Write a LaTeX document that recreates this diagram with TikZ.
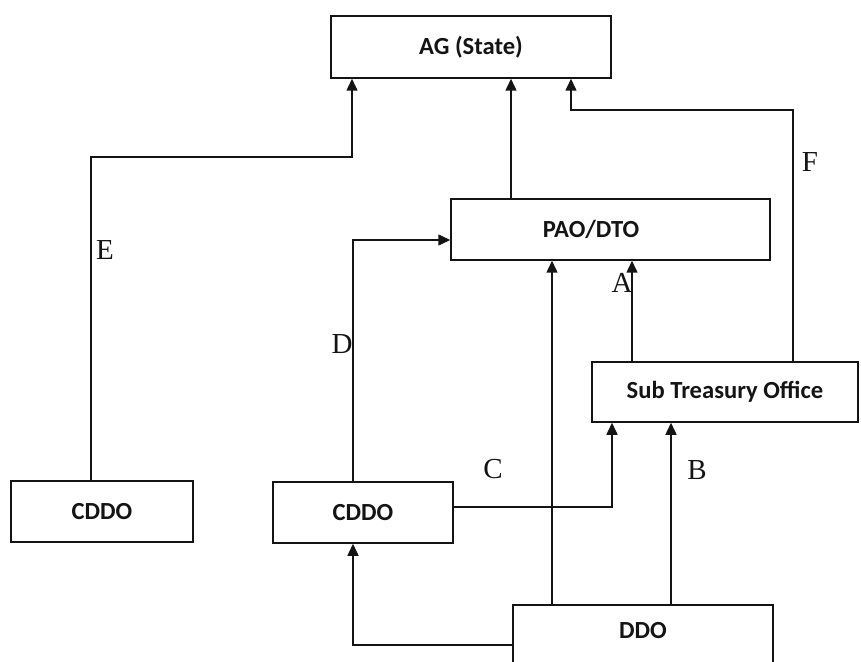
\documentclass[tikz,border=0pt]{standalone}
\usepackage{fontspec}
\setmainfont{Liberation Serif}
\newfontfamily\boxfont{Carlito}
\usepackage{tikz}
\usetikzlibrary{arrows.meta}
\definecolor{mydark}{RGB}{20,20,20}
\tikzset{
  boxtext/.style={font=\boxfont\bfseries\fontsize{12.3}{14}\selectfont, text=mydark},
  block/.style={boxtext, rectangle, draw=mydark, fill=white,
    align=center, inner sep=0pt, line width=0.75pt},
  arrow/.style={-{Triangle[length=6pt,width=5.5pt]}, line width=0.75pt, color=mydark},
  lbl/.style={font=\fontsize{14.5}{16}\selectfont, text=mydark, inner sep=0pt}
}

\begin{document}
\begin{tikzpicture}[x=0.5pt, y=-0.5pt]
  \useasboundingbox (0,0) rectangle (861,662);
  \clip (0,0) rectangle (861,662);

  \node[block, minimum width=140pt, minimum height=31pt] (ag) at (471,47) {AG (State)};
  \node[block, minimum width=159.5pt, minimum height=30.5pt,
    label={[boxtext, xshift=-9.75pt]center:PAO/DTO}] (pao) at (610.5,229.5) {};
  \node[block, minimum width=133pt, minimum height=30pt] (sto) at (725,392) {Sub Treasury Office};
  \node[block, minimum width=91pt, minimum height=30.5pt] (cddoa) at (102,511.5) {CDDO};
  \node[block, minimum width=90pt, minimum height=30.5pt] (cddob) at (363,512.5) {CDDO};
  \node[block, anchor=north, minimum width=130pt, minimum height=40pt,
    label={[boxtext, yshift=7pt]center:DDO}] (ddo) at (643,604) {};

  \coordinate (eturn) at (352,157);
  \coordinate (fturn) at (571,110);

  \draw[arrow] ([xshift=-5.5pt]cddoa.north) |- (eturn) -- (eturn |- ag.south);
  \draw[arrow] ([xshift=-49.75pt]pao.north) -- ([xshift=-49.75pt]pao.north |- ag.south);
  \draw[arrow] ([xshift=34pt]sto.north) |- (fturn) -- (fturn |- ag.south);
  \draw[arrow] ([xshift=-46.5pt]sto.north) -- ([xshift=-46.5pt]sto.north |- pao.south);
  \draw[arrow] ([xshift=-5pt]cddob.north) |- ([yshift=-5.25pt]pao.west);
  \draw[arrow] ([yshift=2.75pt]cddob.east) -| ([xshift=-56.5pt]sto.south);
  \draw[arrow] ([xshift=-45.5pt]ddo.north) -- ([xshift=-45.5pt]ddo.north |- pao.south);
  \draw[arrow] ([xshift=14pt]ddo.north) -- ([xshift=14pt]ddo.north |- sto.south);
  \draw[arrow] (ddo.west) -| ([xshift=-5pt]cddob.south);

  \node[lbl] (labe) at (105,250) {E};
  \node[lbl] (labd) at (342,344) {D};
  \node[lbl] (labc) at (493,469) {C};
  \node[lbl] (labb) at (697,470) {B};
  \node[lbl] (laba) at (622,283) {A};
  \node[lbl] (labf) at (810,162) {F};
\end{tikzpicture}
\end{document}
